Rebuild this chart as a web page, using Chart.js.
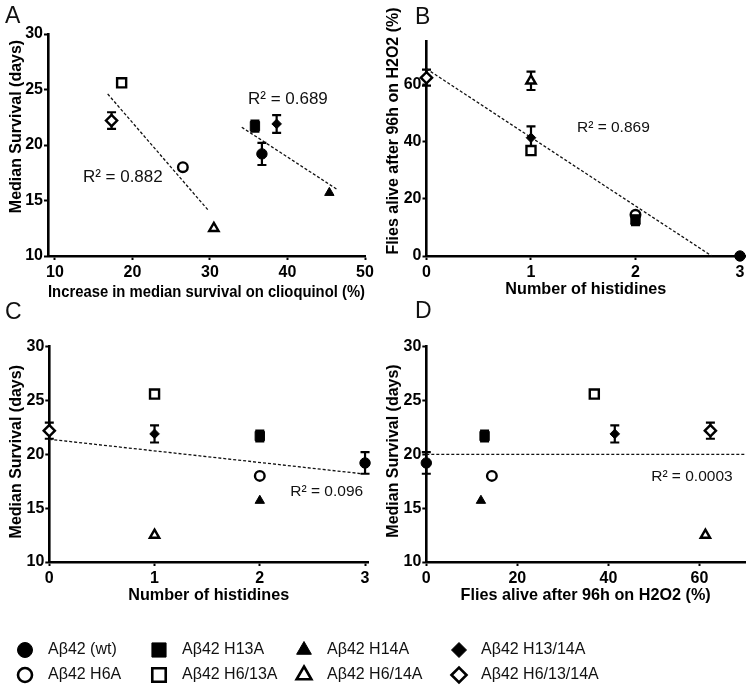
<!DOCTYPE html>
<html><head><meta charset="utf-8">
<script src="https://cdn.jsdelivr.net/npm/chart.js@4.4.0/dist/chart.umd.min.js"></script>
<style>
html,body{margin:0;padding:0;background:#fff;}
#wrap{position:relative;width:754px;height:687px;overflow:hidden;font-family:"Liberation Sans",Arial,sans-serif;}
canvas{position:absolute;}
.letter{position:absolute;font-size:23px;line-height:23px;color:#111;}
</style></head><body>
<div id="wrap">
<canvas id="cA" width="377" height="310" style="left:0;top:0"></canvas>
<canvas id="cB" width="377" height="310" style="left:377px;top:0"></canvas>
<canvas id="cC" width="377" height="310" style="left:0;top:310px"></canvas>
<canvas id="cD" width="377" height="310" style="left:377px;top:310px"></canvas>
<canvas id="cL" width="754" height="67" style="left:0;top:620px"></canvas>
<div class="letter" style="left:5px;top:4px">A</div>
<div class="letter" style="left:415px;top:5px">B</div>
<div class="letter" style="left:5px;top:300px">C</div>
<div class="letter" style="left:415px;top:299px">D</div>
</div>
<script>
// ---------------- data ----------------
const groups = ['Aβ42 (wt)','Aβ42 H6A','Aβ42 H13A','Aβ42 H6/13A','Aβ42 H14A','Aβ42 H6/14A','Aβ42 H13/14A','Aβ42 H6/13/14A'];
const histidines = [3, 2, 2, 1, 2, 1, 1, 0];
const clioquinolIncrease = [36.7, 26.5, 35.8, 18.6, 45.4, 30.5, 38.6, 17.3];
const medianSurvival = [19.2, 18.0, 21.7, 25.6, 15.7, 12.5, 21.9, 22.2];
const medianSurvivalErr = [1.0, 0, 0.5, 0.35, 0, 0, 0.8, 0.75];
const h2o2Alive = [0, 14.4, 12.8, 36.9, 12.0, 61.3, 41.4, 62.4];
const h2o2AliveErr = [0, 0, 2.0, 1.5, 0, 3.2, 4.0, 2.8];

// regression lines (end points)
const fitA1X = [16.8, 29.8], fitA1Y = [24.6, 14.1];
const fitA2X = [34.1, 46.4], fitA2Y = [21.6, 16.0];
const fitBX = [0, 2.73], fitBY = [65.5, 0];
const fitCX = [0, 2.97], fitCY = [21.4, 18.2];
const fitDX = [0, 70], fitDY = [20, 20];
const r2Labels = ['R² = 0.882', 'R² = 0.689', 'R² = 0.869', 'R² = 0.096', 'R² = 0.0003'];

// tick labels
const survivalTicks = [10, 15, 20, 25, 30];
const clioTicks = [10, 20, 30, 40, 50];
const histTicks = [0, 1, 2, 3];
const h2o2Ticks = [0, 20, 40, 60];

// ---------------- styles ----------------
const FONT = '"Liberation Sans", Arial, Helvetica, sans-serif';
const markerShape = ['circle','circle','rect','rect','triangle','triangle','rectRot','rectRot'];
const markerFilled = [true,false,true,false,true,false,true,false];
const markerRadius = [5.2, 4.8, 6.6, 6.4, 5.4, 5.4, 4.8, 5.6];
const legendRadius = [7.5, 7, 10, 9.5, 8.5, 8.5, 7.5, 7.5];

function pointSets(xs, ys, errs) {
  return groups.map((g, i) => ({
    label: g,
    data: [{x: xs[i], y: ys[i]}],
    errY: errs ? [errs[i]] : null,
    pointStyle: markerShape[i],
    pointRadius: markerRadius[i],
    pointHoverRadius: markerRadius[i],
    backgroundColor: markerFilled[i] ? '#000' : '#fff',
    borderColor: '#000',
    pointBackgroundColor: markerFilled[i] ? '#000' : '#fff',
    pointBorderColor: '#000',
    pointBorderWidth: markerFilled[i] ? 1 : 2.4,
    borderWidth: markerFilled[i] ? 1 : 2.4,
    order: markerFilled[i] ? 0 : 1,
    clip: false
  }));
}
function fitSet(xs, ys) {
  return {label: 'fit', data: xs.map((x, i) => ({x: x, y: ys[i]})), showLine: true,
    borderColor: '#111', borderWidth: 1.3, borderDash: [3, 2], pointRadius: 0, pointHoverRadius: 0,
    fill: false, order: 2, clip: false};
}

function axis(min, max, ticks, o) {
  return {
    type: 'linear', min: min, max: max,
    afterBuildTicks: s => { s.ticks = ticks.map(v => ({value: v})); },
    afterFit: s => { if (o.width != null) s.width = o.width; if (o.height != null) s.height = o.height; },
    border: {display: true, color: '#000', width: 2.6},
    grid: {display: true, drawOnChartArea: false, drawTicks: true, tickLength: 4, tickWidth: 2, tickColor: '#000'},
    ticks: {color: '#000', font: {family: FONT, weight: 'bold', size: 16}, padding: o.pad, maxRotation: 0, autoSkip: false},
    title: o.title ? {display: true, text: o.title, color: '#000', font: {family: FONT, weight: 'bold', size: 16.2},
      padding: {top: 0, bottom: o.titlePad}} : {display: false}
  };
}

const errorBars = {
  id: 'errorBars',
  beforeDatasetsDraw(chart) {
    const ctx = chart.ctx, ys = chart.scales.y;
    chart.data.datasets.forEach((ds, di) => {
      if (!ds.errY) return;
      const meta = chart.getDatasetMeta(di);
      meta.data.forEach((pt, j) => {
        const e = ds.errY[j]; if (!e) return;
        const v = ds.data[j].y, x = pt.x;
        const y1 = ys.getPixelForValue(v + e), y2 = ys.getPixelForValue(v - e);
        ctx.save(); ctx.strokeStyle = '#000'; ctx.lineWidth = 2.2;
        ctx.beginPath();
        ctx.moveTo(x, y1); ctx.lineTo(x, y2);
        ctx.moveTo(x - 4.5, y1); ctx.lineTo(x + 4.5, y1);
        ctx.moveTo(x - 4.5, y2); ctx.lineTo(x + 4.5, y2);
        ctx.stroke(); ctx.restore();
      });
    });
  }
};

function annot(notes, yTitle) {
  return {
    id: 'annot',
    afterDraw(chart) {
      const ctx = chart.ctx;
      notes.forEach(n => {
        const x = chart.scales.x.getPixelForValue(n.x), y = chart.scales.y.getPixelForValue(n.y);
        ctx.save(); ctx.font = n.size + 'px ' + FONT; ctx.fillStyle = '#111';
        ctx.textAlign = 'left'; ctx.textBaseline = 'middle'; ctx.fillText(n.text, x, y); ctx.restore();
      });
      ctx.save(); ctx.translate(yTitle.x, yTitle.y); ctx.rotate(-Math.PI / 2);
      ctx.font = 'bold 16px ' + FONT; ctx.fillStyle = '#000'; ctx.textAlign = 'center'; ctx.textBaseline = 'middle';
      ctx.fillText(yTitle.text, 0, 0); ctx.restore();
    }
  };
}

function makeChart(id, datasets, xAxis, yAxis, pad, notes, yTitle) {
  return new Chart(document.getElementById(id), {
    type: 'scatter',
    data: {datasets: datasets},
    options: {
      responsive: false, animation: false, devicePixelRatio: 1, events: [],
      layout: {padding: pad},
      scales: {x: xAxis, y: yAxis},
      plugins: {legend: {display: false}, tooltip: {enabled: false}}
    },
    plugins: [errorBars, annot(notes, yTitle)]
  });
}

// Panel A
makeChart('cA',
  [...pointSets(clioquinolIncrease, medianSurvival, medianSurvivalErr), fitSet(fitA1X, fitA1Y), fitSet(fitA2X, fitA2Y)],
  axis(9.1, 50, clioTicks, {height: 54, pad: 3, title: 'Increase in median survival on clioquinol (%)', titlePad: 7.5}),
  axis(10, 30, survivalTicks, {width: 48, pad: 1}),
  {top: 34, right: 12, left: 0, bottom: 0},
  [{x: 13.6, y: 17.1, text: r2Labels[0], size: 17}, {x: 34.9, y: 24.1, text: r2Labels[1], size: 17}],
  {x: 17, y: 126.5, text: 'Median Survival (days)'});

// Panel B
makeChart('cB',
  [...pointSets(histidines, h2o2Alive, h2o2AliveErr), fitSet(fitBX, fitBY)],
  axis(0, 3.05, histTicks, {height: 54, pad: 3, title: 'Number of histidines', titlePad: 10.5}),
  axis(0, 75, h2o2Ticks, {width: 49.5, pad: 1}),
  {top: 41.7, right: 5, left: 0, bottom: 0},
  [{x: 1.44, y: 44.8, text: r2Labels[2], size: 15.5}],
  {x: 17, y: 131, text: 'Flies alive after 96h on H2O2 (%)'});

// Panel C
makeChart('cC',
  [...pointSets(histidines, medianSurvival, medianSurvivalErr), fitSet(fitCX, fitCY)],
  axis(0, 3.03, histTicks, {height: 58, pad: 3, title: 'Number of histidines', titlePad: 14.5}),
  axis(10, 30, survivalTicks, {width: 49.3, pad: 1}),
  {top: 36.7, right: 7.4, left: 0, bottom: 0},
  [{x: 2.29, y: 16.5, text: r2Labels[3], size: 15.5}],
  {x: 17, y: 141.7, text: 'Median Survival (days)'});

// Panel D
makeChart('cD',
  [...pointSets(h2o2Alive, medianSurvival, medianSurvivalErr), fitSet(fitDX, fitDY)],
  axis(0, 70, h2o2Ticks, {height: 58, pad: 3, title: 'Flies alive after 96h on H2O2 (%)', titlePad: 14.5}),
  axis(10, 30, survivalTicks, {width: 49.3, pad: 1}),
  {top: 36.7, right: 9, left: 0, bottom: 0},
  [{x: 49.4, y: 17.9, text: r2Labels[4], size: 15.5}],
  {x: 17, y: 141, text: 'Median Survival (days)'});

// Legend
const legendMarkerX = [25, 159, 304, 459];
const legendTextX = [48, 182, 327, 481];
const legendRowY = [30, 55];
const legendPlugin = {
  id: 'legendDraw',
  afterDraw(chart) {
    const ctx = chart.ctx;
    groups.forEach((g, i) => {
      const col = Math.floor(i / 2), row = i % 2;
      const x = legendMarkerX[col], y = legendRowY[row];
      ctx.save();
      ctx.fillStyle = markerFilled[i] ? '#000' : '#fff';
      ctx.strokeStyle = '#000';
      ctx.lineWidth = markerFilled[i] ? 1 : 2.6;
      Chart.helpers.drawPoint(ctx, {pointStyle: markerShape[i], radius: legendRadius[i], rotation: 0, borderWidth: ctx.lineWidth}, x, y);
      ctx.restore();
      ctx.save(); ctx.font = '16px ' + FONT; ctx.fillStyle = '#111'; ctx.textAlign = 'left'; ctx.textBaseline = 'middle';
      ctx.fillText(g, legendTextX[col], y); ctx.restore();
    });
  }
};
new Chart(document.getElementById('cL'), {
  type: 'scatter', data: {datasets: []},
  options: {responsive: false, animation: false, devicePixelRatio: 1, events: [],
    scales: {x: {display: false}, y: {display: false}},
    plugins: {legend: {display: false}, tooltip: {enabled: false}}},
  plugins: [legendPlugin]
});
</script>
</body></html>
